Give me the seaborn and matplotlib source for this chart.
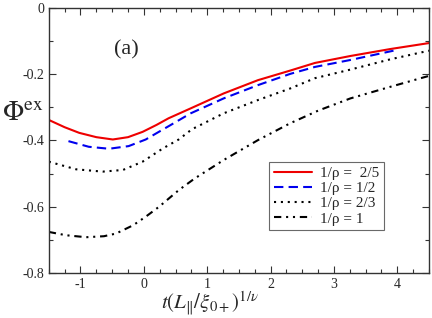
import matplotlib
matplotlib.use("Agg")
import matplotlib.pyplot as plt
import seaborn as sns
from matplotlib.ticker import MultipleLocator

# values
x_25 = [-1.5, -1.25, -1.02, -0.75, -0.49, -0.25, -0.02, 0.2, 0.39, 0.74,
        1.26, 1.8, 2.31, 2.7, 3.26, 3.89, 4.5]
y_25 = [-0.338, -0.360, -0.377, -0.390, -0.397, -0.390, -0.374, -0.353, -0.333, -0.303,
        -0.258, -0.218, -0.189, -0.166, -0.145, -0.124, -0.106]

x_12 = [-1.19, -0.87, -0.55, -0.24, 0.03, 0.2, 0.39, 0.74,
        1.26, 1.8, 2.31, 2.7, 3.26, 3.94]
y_12 = [-0.402, -0.419, -0.425, -0.417, -0.397, -0.378, -0.357, -0.318,
        -0.273, -0.233, -0.199, -0.178, -0.157, -0.129]

x_23 = [-1.5, -1.07, -0.65, -0.33, -0.02, 0.3, 0.55, 0.76,
        1.26, 1.8, 2.31, 2.7, 3.26, 3.89, 4.5]
y_23 = [-0.464, -0.487, -0.494, -0.489, -0.464, -0.424, -0.397, -0.366,
        -0.318, -0.278, -0.243, -0.212, -0.186, -0.155, -0.129]

x_1 = [-1.5, -1.23, -0.91, -0.63, -0.44, -0.17, 0.03, 0.24, 0.55, 0.8,
       1.26, 1.8, 2.31, 2.75, 3.26, 3.89, 4.5]
y_1 = [-0.676, -0.686, -0.692, -0.689, -0.681, -0.656, -0.630, -0.600, -0.550, -0.515,
       -0.459, -0.399, -0.348, -0.310, -0.273, -0.238, -0.205]

labels = ["1/\u03c1 =  2/5", "1/\u03c1 = 1/2", "1/\u03c1 = 2/3", "1/\u03c1 = 1"]

sns.set_style("ticks")
plt.rcParams["font.family"] = ["Liberation Serif", "DejaVu Serif"]
plt.rcParams["mathtext.fontset"] = "stix"

fig = plt.figure(figsize=(4.32, 3.18), dpi=100)
ax = fig.add_axes([0.113, 0.1415, 0.880, 0.8335])

lw = 1.5
sns.lineplot(x=x_25, y=y_25, ax=ax, color="#ee0000", linewidth=lw, label=labels[0])
sns.lineplot(x=x_12, y=y_12, ax=ax, color="#0000ee", linewidth=lw,
             linestyle=(0, (4.5, 2.5)), label=labels[1])
sns.lineplot(x=x_23, y=y_23, ax=ax, color="black", linewidth=lw,
             linestyle=(0, (1, 2.3)), label=labels[2])
sns.lineplot(x=x_1, y=y_1, ax=ax, color="black", linewidth=lw,
             linestyle=(0, (3.5, 2.3, 1, 2.3, 1, 2.3)), label=labels[3])

ax.set_xlim(-1.5, 4.5)
ax.set_ylim(-0.8, 0)
ax.xaxis.set_minor_locator(MultipleLocator(0.25))
ax.yaxis.set_minor_locator(MultipleLocator(0.1))
ax.set_xticks([-1, 0, 1, 2, 3, 4])
ax.set_xticklabels(["-1", "0", "1", "2", "3", "4"])
ax.set_yticks([-0.8, -0.6, -0.4, -0.2, 0])
ax.set_yticklabels(["-0.8", "-0.6", "-0.4", "-0.2", "0"])
ax.tick_params(which="both", direction="in", top=True, right=True,
               labelsize=10, color="#333333")
ax.tick_params(which="major", length=5, width=0.8)
ax.tick_params(which="minor", length=3, width=0.8)
for s in ax.spines.values():
    s.set_linewidth(1.0)
    s.set_color("#333333")

ax.set_xlabel(r"$t(L_{\|}/\xi_{0+})^{1/\nu}$", fontsize=15, va="center")
ax.xaxis.set_label_coords(0.424, -0.116)
ax.set_ylabel(r"$\Phi^{\rm ex}$", fontsize=20, rotation=0, ha="center", va="center")
ax.yaxis.set_label_coords(-0.068, 0.60)

ax.text(-0.28, -0.127, "(a)", fontsize=16, ha="center", va="center")

leg = ax.legend(loc="upper left", bbox_to_anchor=(0.58, 0.42), fontsize=11,
                frameon=True, fancybox=False, edgecolor="#444444",
                handlelength=2.5, handletextpad=0.5, labelspacing=0.1,
                borderpad=0.3, borderaxespad=0)
leg.get_frame().set_linewidth(0.8)

fig.savefig("out.png", dpi=100)
